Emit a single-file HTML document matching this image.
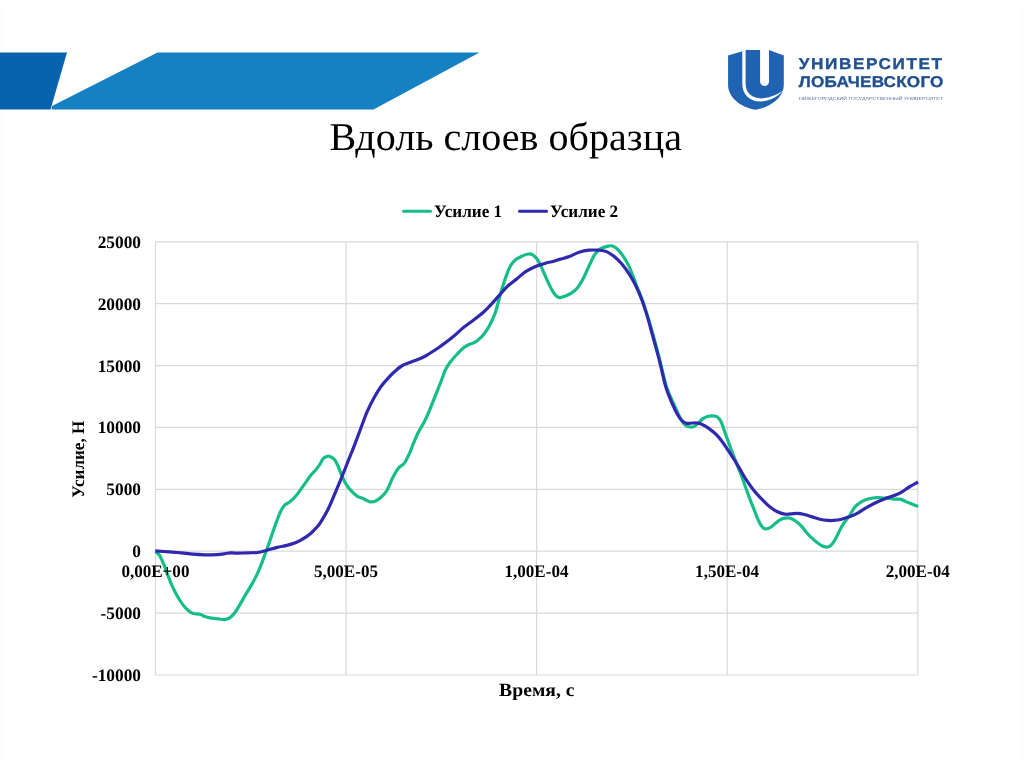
<!DOCTYPE html>
<html lang="ru">
<head>
<meta charset="utf-8">
<title>Вдоль слоев образца</title>
<style>
html,body{margin:0;padding:0;background:#fff;}
body{width:1024px;height:767px;overflow:hidden;position:relative;font-family:"Liberation Serif",serif;}
svg{position:absolute;left:0;top:0;display:block;}
text{text-rendering:geometricPrecision;}
.title{font-family:"Liberation Serif",serif;font-size:39.5px;fill:#000;}
.tick text{font-family:"Liberation Serif",serif;font-size:17.5px;font-weight:bold;fill:#000;}
.legend text{font-family:"Liberation Serif",serif;font-size:17.4px;font-weight:bold;fill:#000;}
.axt{font-family:"Liberation Serif",serif;font-size:18.67px;font-weight:bold;fill:#000;}
.grid line{stroke:#d9d9d9;stroke-width:1.2;}
.l1{font-family:"Liberation Sans",sans-serif;font-weight:bold;font-size:15.6px;fill:#22508f;stroke:#22508f;stroke-width:0.35;}
.l2{font-family:"Liberation Sans",sans-serif;font-size:4.4px;fill:#55719f;}
</style>
</head>
<body>
<svg width="1024" height="767" viewBox="0 0 1024 767">
<rect width="1024" height="767" fill="#fff"/>
<rect x="1.5" y="1.5" width="1021" height="764" fill="none" stroke="#fbfbfb" stroke-width="1"/>
<!-- banner -->
<polygon points="0,52.5 67,52.5 50.5,109.6 0,109.6" fill="#0763ad"/>
<polygon points="157.5,52.5 479.5,52.5 373.5,109.6 51.5,109.6 52,106" fill="#1581c2"/>
<!-- logo -->
<g id="logo">
<path d="M728.1 55.6 L742.4 51.3 L745.5 49.9 L769 49.9 L783.8 55.6 L783.8 85 C783.8 97 771.5 107 755.6 109.8 C740 107 728.1 97 728.1 85 Z" fill="#1f63b2"/>
<path d="M760.1 48 L760.1 81.5 A4.45 4.45 0 0 0 769 81.5 L769 48 Z" fill="#fff"/>
<path d="M742.3 48 L742.3 83.8 C742.3 95 750 101.5 760 101.5 C769 101.5 777.5 97.5 783 90.6 C777 95 769 98.4 761 98.4 C752.5 98.4 745.6 93 745.6 83.8 L745.6 48 Z" fill="#fff"/>
</g>
<text class="l1" transform="translate(798.8,68.7) scale(1.1,1)" textLength="130.2" lengthAdjust="spacing">УНИВЕРСИТЕТ</text>
<text class="l1" transform="translate(798.8,86.9) scale(1.1,1)" textLength="131.5" lengthAdjust="spacing">ЛОБАЧЕВСКОГО</text>
<text class="l2" x="799" y="99.8" textLength="144" lengthAdjust="spacingAndGlyphs">НИЖЕГОРОДСКИЙ ГОСУДАРСТВЕННЫЙ УНИВЕРСИТЕТ</text>
<!-- title -->
<text class="title" transform="translate(505.7,150) scale(1.015,1)" text-anchor="middle">Вдоль слоев образца</text>
<!-- legend -->
<g class="legend">
<line x1="403.5" y1="211.3" x2="430.5" y2="211.3" stroke="#15bd88" stroke-width="3" stroke-linecap="round"/>
<text transform="translate(434.0,217.0) scale(0.985,1)">Усилие 1</text>
<line x1="519.5" y1="211.3" x2="546.5" y2="211.3" stroke="#3029ae" stroke-width="3" stroke-linecap="round"/>
<text transform="translate(550.0,217.0) scale(0.985,1)">Усилие 2</text>
</g>
<!-- grid -->
<g class="grid"><line x1="155.5" y1="241.8" x2="917.8" y2="241.8"/><line x1="155.5" y1="303.7" x2="917.8" y2="303.7"/><line x1="155.5" y1="365.6" x2="917.8" y2="365.6"/><line x1="155.5" y1="427.4" x2="917.8" y2="427.4"/><line x1="155.5" y1="489.3" x2="917.8" y2="489.3"/><line x1="155.5" y1="551.2" x2="917.8" y2="551.2"/><line x1="155.5" y1="613.1" x2="917.8" y2="613.1"/><line x1="155.5" y1="675.0" x2="917.8" y2="675.0"/><line x1="155.5" y1="241.8" x2="155.5" y2="675.0"/><line x1="346.1" y1="241.8" x2="346.1" y2="675.0"/><line x1="536.6" y1="241.8" x2="536.6" y2="675.0"/><line x1="727.2" y1="241.8" x2="727.2" y2="675.0"/><line x1="917.8" y1="241.8" x2="917.8" y2="675.0"/></g>
<text class="axt" transform="translate(536.8,696.2) scale(1.054,1)" text-anchor="middle">Время, с</text>
<text class="axt" style="font-size:17.1px" transform="translate(84.2,459.2) scale(1.03,1) rotate(-90)" text-anchor="middle">Усилие, Н</text>
<!-- series -->
<path d="M155.5 551.6C156.2 552.2 158.2 553.2 159.6 555.3C161.0 557.4 162.3 560.9 163.7 564.2C165.1 567.5 166.4 571.6 167.8 575.1C169.2 578.6 170.3 581.9 171.9 585.4C173.5 588.9 175.6 593.1 177.4 596.3C179.2 599.5 181.0 602.2 182.8 604.6C184.6 607.0 186.6 609.0 188.3 610.5C190.0 612.0 191.2 612.9 193.1 613.5C195.0 614.1 198.0 613.8 199.9 614.3C201.8 614.8 202.8 615.9 204.7 616.5C206.6 617.1 209.3 617.8 211.6 618.2C213.9 618.6 216.2 618.7 218.4 618.9C220.6 619.1 222.7 619.8 224.6 619.6C226.5 619.4 228.3 618.7 230.0 617.6C231.7 616.5 233.1 615.1 234.8 612.8C236.5 610.5 238.5 607.0 240.3 603.9C242.1 600.8 244.0 597.4 245.8 594.3C247.6 591.2 249.4 588.6 251.2 585.4C253.0 582.2 255.1 578.4 256.7 575.1C258.3 571.8 259.4 569.0 260.8 565.6C262.2 562.2 263.5 558.4 264.9 554.6C266.3 550.8 267.9 546.5 269.1 543.0C270.3 539.5 271.3 536.5 272.3 533.6C273.3 530.7 274.3 528.0 275.2 525.4C276.1 522.8 277.0 520.4 277.9 518.0C278.8 515.6 279.6 513.3 280.7 511.2C281.8 509.1 283.0 506.8 284.6 505.2C286.2 503.6 288.1 503.4 290.1 501.6C292.2 499.9 294.6 497.4 296.9 494.7C299.2 491.9 301.5 488.3 303.8 485.1C306.1 481.9 308.6 478.2 310.6 475.6C312.7 473.0 314.6 471.2 316.1 469.4C317.6 467.6 318.4 466.7 319.5 465.0C320.6 463.3 321.9 460.3 322.9 459.0C323.9 457.7 324.4 457.5 325.5 457.0C326.6 456.5 327.8 455.8 329.2 456.2C330.6 456.6 332.6 457.6 334.1 459.2C335.6 460.8 336.7 463.2 338.0 466.0C339.3 468.8 340.6 472.9 341.9 475.8C343.2 478.7 344.2 481.0 345.8 483.6C347.4 486.2 349.8 489.3 351.7 491.4C353.6 493.5 355.6 495.1 357.5 496.3C359.4 497.5 361.4 497.8 363.4 498.7C365.4 499.6 367.4 501.2 369.3 501.6C371.2 502.0 373.2 501.9 375.1 501.2C377.1 500.5 379.0 499.1 381.0 497.3C383.0 495.5 384.9 493.8 386.9 490.5C388.8 487.2 390.8 481.6 392.7 477.8C394.6 474.1 396.7 470.4 398.6 468.0C400.6 465.6 402.6 465.5 404.4 463.1C406.2 460.7 407.9 456.9 409.4 453.6C410.9 450.3 412.1 446.6 413.5 443.2C414.9 439.8 416.1 436.8 418.0 433.0C419.9 429.2 422.8 424.8 424.8 420.7C426.9 416.6 428.5 412.7 430.3 408.4C432.1 404.1 434.0 399.3 435.8 394.7C437.6 390.1 439.6 385.1 441.2 381.0C442.8 376.9 443.9 373.1 445.3 370.1C446.7 367.2 447.6 365.8 449.4 363.3C451.2 360.8 454.0 357.5 456.3 355.0C458.6 352.5 461.1 349.9 463.1 348.2C465.2 346.5 466.8 345.7 468.6 344.8C470.4 343.9 472.5 343.6 474.1 342.7C475.8 341.8 476.9 340.9 478.5 339.6C480.1 338.3 481.6 337.0 483.4 334.7C485.2 332.4 487.4 329.5 489.3 325.9C491.2 322.3 493.5 317.6 495.1 313.2C496.7 308.8 497.7 304.1 499.0 299.5C500.3 294.9 501.6 290.0 502.9 285.8C504.2 281.6 505.6 277.5 506.9 274.1C508.2 270.7 509.4 267.7 510.8 265.3C512.2 262.9 513.6 261.4 515.6 259.8C517.6 258.2 520.4 256.9 522.5 255.9C524.6 254.9 526.8 254.2 528.4 254.0C530.0 253.8 531.0 253.9 532.3 254.6C533.6 255.3 534.9 256.5 536.2 258.1C537.5 259.7 538.8 261.8 540.1 264.3C541.4 266.8 542.7 270.2 544.0 273.1C545.3 276.0 546.6 279.1 547.9 281.9C549.2 284.7 550.5 287.4 551.8 289.7C553.1 291.9 554.4 294.1 555.7 295.4C557.0 296.7 558.0 297.5 559.6 297.6C561.2 297.7 563.5 296.8 565.5 296.0C567.5 295.2 569.4 294.4 571.3 293.1C573.2 291.8 575.1 290.6 577.1 288.2C579.1 285.8 581.0 282.6 583.0 279.0C585.0 275.4 586.9 270.4 588.9 266.3C590.9 262.2 592.8 257.5 594.7 254.6C596.7 251.7 598.6 250.0 600.6 248.7C602.6 247.4 604.7 247.1 606.5 246.6C608.3 246.1 610.0 245.5 611.6 245.8C613.2 246.1 614.6 246.7 616.4 248.2C618.1 249.7 620.2 251.9 622.1 254.6C624.0 257.3 626.1 260.5 628.0 264.3C629.9 268.1 632.1 273.8 633.6 277.5C635.1 281.2 635.5 283.0 637.0 286.8C638.5 290.6 640.6 295.3 642.5 300.5C644.4 305.7 646.3 311.8 648.2 318.0C650.1 324.2 651.8 330.4 653.8 337.5C655.8 344.6 657.8 352.2 659.9 360.5C662.0 368.8 664.3 379.7 666.6 387.0C668.9 394.3 671.7 399.2 673.9 404.2C676.1 409.2 678.0 413.6 679.7 416.9C681.4 420.2 682.5 422.2 684.0 423.8C685.5 425.4 687.3 426.2 688.9 426.7C690.5 427.2 692.3 427.2 693.8 426.7C695.3 426.2 696.2 425.1 697.7 423.8C699.2 422.5 701.0 420.1 702.6 418.9C704.2 417.7 705.8 417.0 707.4 416.5C709.0 416.0 710.7 415.8 712.3 415.9C713.9 416.0 715.7 415.9 717.2 416.9C718.7 417.9 719.8 419.2 721.1 421.8C722.4 424.4 723.7 429.0 725.0 432.6C726.3 436.2 727.6 439.7 728.9 443.3C730.2 446.9 731.6 450.7 732.9 454.1C734.2 457.5 735.5 460.6 736.8 463.8C738.1 467.1 739.2 469.7 740.7 473.6C742.2 477.5 744.1 483.2 745.6 487.3C747.1 491.4 748.2 494.7 749.5 498.1C750.8 501.5 751.9 504.1 753.4 507.8C754.9 511.5 756.8 517.0 758.3 520.2C759.8 523.4 761.0 525.5 762.3 527.0C763.6 528.5 764.7 529.0 766.2 529.0C767.7 529.0 769.3 528.1 771.1 527.0C772.9 525.9 775.0 523.5 776.9 522.1C778.8 520.7 781.0 519.3 782.8 518.6C784.6 517.9 786.4 517.8 787.7 517.8C789.0 517.8 789.3 517.8 790.5 518.3C791.7 518.8 793.3 519.6 794.7 520.5C796.1 521.4 797.4 522.3 798.8 523.5C800.2 524.7 801.4 526.2 802.9 527.9C804.4 529.6 806.0 532.0 807.6 533.7C809.2 535.5 810.7 536.9 812.3 538.4C813.9 539.9 815.4 541.3 817.0 542.5C818.6 543.7 820.1 545.0 821.7 545.8C823.3 546.6 824.9 547.1 826.4 547.1C827.9 547.1 829.2 546.8 830.5 545.8C831.8 544.8 832.8 543.2 834.0 541.4C835.2 539.6 836.4 537.0 837.5 534.9C838.6 532.8 839.4 530.9 840.4 529.0C841.4 527.1 842.3 525.4 843.4 523.8C844.5 522.1 845.8 520.6 846.9 519.1C848.0 517.6 848.9 516.7 850.0 515.0C851.1 513.3 852.4 510.5 853.6 508.8C854.8 507.1 855.9 506.1 857.0 505.0C858.1 503.9 859.3 503.1 860.5 502.4C861.7 501.6 862.6 501.1 864.0 500.5C865.4 499.9 866.7 499.3 868.8 498.8C870.9 498.3 874.0 497.7 876.6 497.6C879.2 497.5 882.2 498.0 884.5 498.1C886.8 498.2 888.3 498.3 890.3 498.5C892.2 498.7 894.4 499.1 896.2 499.2C898.0 499.3 899.5 499.0 901.1 499.4C902.7 499.8 904.2 500.8 906.0 501.6C907.8 502.4 909.8 503.2 911.8 504.0C913.8 504.8 917.0 506.0 918.1 506.4" fill="none" stroke="#15bd88" stroke-width="3.2" stroke-linecap="butt" stroke-linejoin="round"/>
<path d="M155.3 550.9C157.7 551.1 165.2 551.6 169.5 551.9C173.8 552.2 177.4 552.4 181.3 552.8C185.2 553.2 189.1 553.9 193.0 554.2C196.9 554.5 200.8 554.7 204.7 554.8C208.6 554.9 213.2 554.8 216.5 554.6C219.8 554.4 222.0 554.1 224.3 553.8C226.6 553.5 228.2 552.9 230.2 552.8C232.1 552.7 233.1 553.2 236.0 553.2C238.9 553.2 244.2 552.9 247.8 552.8C251.4 552.7 254.6 552.9 257.5 552.5C260.4 552.1 262.0 551.6 265.3 550.7C268.6 549.9 273.5 548.3 277.1 547.4C280.7 546.5 284.0 546.1 286.9 545.4C289.8 544.7 292.1 544.1 294.7 543.1C297.3 542.1 299.9 540.8 302.5 539.2C305.1 537.6 308.0 535.7 310.3 533.7C312.6 531.8 314.8 529.3 316.5 527.5C318.2 525.7 318.4 525.8 320.4 522.7C322.3 519.6 325.9 513.6 328.2 509.0C330.5 504.4 332.2 499.9 334.1 495.3C336.1 490.8 337.9 486.4 339.9 481.7C341.8 477.0 344.1 471.4 345.8 467.0C347.5 462.6 348.8 459.3 350.3 455.6C351.8 451.9 353.0 449.1 354.7 444.6C356.4 440.2 358.5 434.5 360.6 428.9C362.7 423.3 365.1 416.3 367.4 411.1C369.7 405.9 371.9 401.6 374.2 397.5C376.5 393.4 378.7 389.7 381.0 386.5C383.3 383.3 385.6 380.8 387.9 378.3C390.2 375.8 392.4 373.6 394.7 371.5C397.0 369.4 398.9 367.6 401.6 366.0C404.3 364.4 407.7 363.3 411.1 361.9C414.5 360.5 418.9 359.3 422.1 357.8C425.3 356.3 427.3 354.8 430.3 353.0C433.3 351.2 436.3 349.4 439.9 346.8C443.5 344.2 448.1 340.9 452.1 337.6C456.1 334.4 460.2 330.2 463.8 327.3C467.4 324.4 470.3 322.5 473.6 320.0C476.9 317.5 480.5 314.8 483.4 312.2C486.3 309.6 488.6 307.2 491.2 304.4C493.8 301.6 496.4 298.5 499.0 295.6C501.6 292.7 504.0 289.6 506.9 286.8C509.8 284.0 513.4 281.6 516.6 279.0C519.9 276.4 523.1 273.3 526.4 271.2C529.7 269.1 532.9 267.7 536.2 266.3C539.5 264.9 543.4 263.8 546.0 263.0C548.6 262.2 549.5 262.4 551.8 261.8C554.1 261.2 556.7 260.3 559.6 259.4C562.5 258.5 566.0 257.7 569.3 256.5C572.5 255.3 575.8 253.2 579.1 252.2C582.4 251.1 585.6 250.5 588.9 250.2C592.2 249.9 595.8 250.0 598.7 250.2C601.6 250.4 603.9 250.5 606.5 251.6C609.1 252.7 611.7 254.4 614.3 256.5C616.9 258.6 619.5 261.2 622.1 264.3C624.7 267.4 627.6 271.5 629.9 275.1C632.2 278.7 633.8 281.7 635.8 285.8C637.8 289.9 639.8 294.3 641.7 299.5C643.7 304.7 645.6 310.9 647.5 317.1C649.4 323.4 651.0 329.8 653.0 337.0C655.0 344.2 657.2 352.0 659.3 360.1C661.4 368.2 663.3 378.4 665.4 385.6C667.5 392.8 669.9 398.3 672.0 403.2C674.1 408.1 676.0 412.0 677.8 415.0C679.5 418.0 681.0 419.8 682.5 421.2C684.0 422.6 685.2 423.1 686.9 423.4C688.6 423.7 690.8 423.0 692.8 423.0C694.8 423.0 696.8 422.8 698.7 423.2C700.7 423.6 702.5 424.6 704.5 425.7C706.5 426.8 708.4 428.1 710.4 429.6C712.4 431.1 714.2 432.5 716.2 434.5C718.2 436.5 720.1 438.8 722.1 441.4C724.1 444.0 726.0 447.3 728.0 450.2C730.0 453.1 731.8 455.9 733.8 459.0C735.8 462.1 737.7 465.4 739.7 468.7C741.7 472.0 743.3 475.3 745.6 478.8C747.9 482.3 750.9 486.6 753.5 489.9C756.1 493.2 758.7 496.0 761.3 498.7C763.9 501.4 766.5 504.1 769.1 506.2C771.7 508.3 774.3 510.2 776.9 511.5C779.5 512.8 782.4 513.7 784.7 514.1C787.0 514.5 788.5 514.0 790.6 513.9C792.7 513.8 795.1 513.2 797.4 513.3C799.7 513.4 801.8 513.9 804.3 514.5C806.8 515.1 809.5 516.1 812.1 516.9C814.7 517.7 817.3 518.6 819.9 519.2C822.5 519.8 825.5 520.2 827.8 520.4C830.1 520.6 831.3 520.6 833.6 520.4C835.9 520.2 838.8 519.8 841.4 519.2C844.0 518.6 846.7 517.8 849.3 516.8C851.9 515.8 854.2 514.9 857.1 513.3C860.0 511.7 863.6 509.2 866.9 507.4C870.1 505.5 873.4 503.8 876.6 502.2C879.9 500.6 883.1 499.4 886.4 498.1C889.7 496.9 893.6 495.8 896.2 494.7C898.8 493.6 899.7 493.2 902.0 491.8C904.3 490.4 907.2 488.1 909.9 486.5C912.6 484.9 916.7 482.8 918.1 482.0" fill="none" stroke="#3029ae" stroke-width="3.2" stroke-linecap="butt" stroke-linejoin="round"/>
<g class="tick"><text transform="translate(141.0,247.8) scale(0.990,1)" text-anchor="end">25000</text><text transform="translate(141.0,309.7) scale(0.990,1)" text-anchor="end">20000</text><text transform="translate(141.0,371.6) scale(0.990,1)" text-anchor="end">15000</text><text transform="translate(141.0,433.4) scale(0.990,1)" text-anchor="end">10000</text><text transform="translate(141.0,495.3) scale(0.990,1)" text-anchor="end">5000</text><text transform="translate(141.0,557.2) scale(0.990,1)" text-anchor="end">0</text><text transform="translate(141.0,619.1) scale(0.990,1)" text-anchor="end">-5000</text><text transform="translate(141.0,681.0) scale(0.990,1)" text-anchor="end">-10000</text><text transform="translate(155.4,576.8) scale(0.975,1)" text-anchor="middle">0,00E+00</text><text transform="translate(346.0,576.8) scale(0.975,1)" text-anchor="middle">5,00E-05</text><text transform="translate(536.5,576.8) scale(0.975,1)" text-anchor="middle">1,00E-04</text><text transform="translate(727.1,576.8) scale(0.975,1)" text-anchor="middle">1,50E-04</text><text transform="translate(917.7,576.8) scale(0.975,1)" text-anchor="middle">2,00E-04</text></g>
</svg>
</body>
</html>
